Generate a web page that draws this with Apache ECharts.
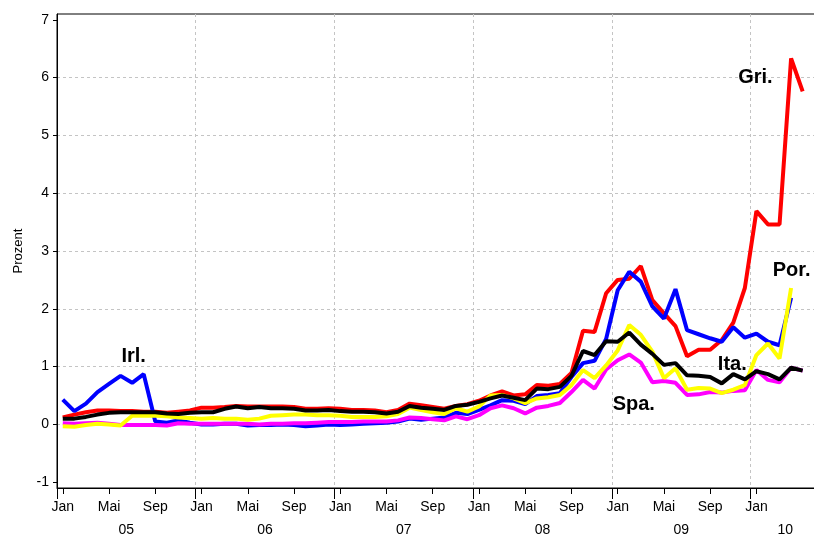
<!DOCTYPE html>
<html>
<head>
<meta charset="utf-8">
<script src="https://cdn.jsdelivr.net/npm/echarts@6/dist/echarts.min.js"></script>
<style>
html,body{margin:0;padding:0;background:#ffffff;}
#chart{width:814px;height:538px;}
</style>
</head>
<body>
<div id="chart"></div>
<script>
// ---- data ----
const monthNames = ['Jan','Feb','Mär','Apr','Mai','Jun','Jul','Aug','Sep','Okt','Nov','Dez'];
const years = ['05','06','07','08','09','10'];
const monthCount = 66; // Jan 05 .. Jun 10
const xTickMonths = ['Jan','Mai','Sep'];
const yTicks = [-1,0,1,2,3,4,5,6,7];
const yGridValues = [0,1,2,3,4,5,6];

const gri = [
  0.12,0.17,0.21,0.24,0.24,0.23,0.23,0.22,0.22,0.20,0.22,0.24,
  0.29,0.29,0.30,0.32,0.31,0.31,0.31,0.31,0.30,0.27,0.27,0.28,
  0.27,0.25,0.25,0.24,0.21,0.25,0.36,0.33,0.30,0.27,0.32,0.35,
  0.41,0.50,0.57,0.50,0.52,0.68,0.67,0.70,0.89,1.62,1.60,2.27,
  2.50,2.52,2.74,2.15,1.92,1.70,1.18,1.29,1.29,1.46,1.76,2.36,
  3.69,3.46,3.46,6.33,5.76
];
const irl = [
  0.43,0.23,0.36,0.56,0.70,0.84,0.72,0.87,0.05,0.03,0.07,0.03,
  0.00,0.00,0.01,0.01,-0.02,-0.01,-0.01,0.00,-0.01,-0.03,-0.02,0.00,
  -0.01,0.00,0.01,0.02,0.03,0.05,0.10,0.08,0.10,0.12,0.20,0.18,
  0.25,0.33,0.42,0.41,0.35,0.49,0.51,0.54,0.82,1.06,1.10,1.48,
  2.32,2.64,2.47,2.04,1.83,2.34,1.63,1.56,1.49,1.43,1.68,1.50,
  1.57,1.43,1.37,2.19
];
const ita = [
  0.10,0.10,0.13,0.17,0.20,0.21,0.21,0.21,0.21,0.19,0.18,0.20,
  0.21,0.21,0.27,0.31,0.28,0.30,0.28,0.28,0.27,0.24,0.24,0.25,
  0.23,0.22,0.22,0.21,0.19,0.22,0.32,0.29,0.27,0.25,0.32,0.34,
  0.39,0.45,0.50,0.46,0.42,0.62,0.61,0.65,0.84,1.27,1.20,1.44,
  1.43,1.59,1.38,1.22,1.03,1.06,0.85,0.84,0.82,0.71,0.87,0.78,
  0.92,0.87,0.78,0.98,0.93
];
const por = [
  -0.03,-0.04,-0.01,0.01,0.00,-0.02,0.15,0.15,0.15,0.14,0.12,0.11,
  0.10,0.11,0.10,0.10,0.08,0.10,0.15,0.16,0.17,0.17,0.16,0.16,
  0.15,0.13,0.13,0.13,0.14,0.18,0.29,0.25,0.21,0.18,0.28,0.22,
  0.31,0.50,0.51,0.45,0.37,0.45,0.47,0.51,0.68,0.94,0.80,1.02,
  1.28,1.72,1.55,1.26,0.80,0.97,0.60,0.63,0.62,0.54,0.60,0.68,
  1.20,1.40,1.14,2.36
];
const spa = [
  0.02,0.01,0.02,0.03,0.01,-0.01,-0.01,-0.01,-0.01,-0.02,0.02,0.01,
  0.01,0.01,0.01,0.01,0.01,0.00,0.01,0.01,0.02,0.02,0.03,0.04,
  0.04,0.04,0.05,0.05,0.05,0.07,0.12,0.11,0.09,0.07,0.14,0.09,
  0.16,0.28,0.33,0.28,0.19,0.29,0.32,0.37,0.56,0.77,0.62,0.95,
  1.11,1.21,1.07,0.73,0.75,0.72,0.51,0.52,0.56,0.55,0.58,0.59,
  0.94,0.77,0.73,0.98,0.93
];

// annotation anchors (category index, value)
const labelIrl = [6, 1.17];
const labelGri = [60, 6.0];
const labelPor = [63, 2.66];
const labelIta = [58, 1.04];
const labelSpa = [49, 0.35];

// ---- build ----
const categories = [];
for (let i = 0; i < monthCount; i++) {
  categories.push(monthNames[i % 12] + ' ' + years[Math.floor(i / 12)]);
}
const FONT = '"Liberation Sans", Arial, Helvetica, sans-serif';
const isMonthTick = (i) => xTickMonths.indexOf(monthNames[i % 12]) >= 0 && i < 64;
// year label sits at the middle of the months of that year present on the axis
const isYearLabel = (i) => {
  const y = Math.floor(i / 12);
  const start = y * 12, end = Math.min(y * 12 + 11, monthCount - 1);
  return i === Math.floor((start + end) / 2);
};

function annot(text, coord, offset) {
  return {
    symbol: 'circle', symbolSize: 0, silent: true, animation: false,
    label: { show: true, position: 'inside', formatter: text, fontFamily: FONT,
      fontSize: 20, fontWeight: 'bold', color: '#000', offset: offset },
    data: [{ coord: [categories[coord[0]], coord[1]] }]
  };
}
function line(name, data, color, mp) {
  return { name: name, type: 'line', data: data, symbol: 'none', showSymbol: false,
    xAxisIndex: 0, yAxisIndex: 0,
    lineStyle: { color: color, width: 4 }, itemStyle: { color: color },
    emphasis: { disabled: true }, markPoint: mp };
}

const chart = echarts.init(document.getElementById('chart'), null, { renderer: 'canvas' });
chart.setOption({
  animation: false,
  backgroundColor: '#ffffff',
  grid: { left: 57, right: -6, top: 14, bottom: 50, containLabel: false, outerBoundsMode: 'none',
    show: true, borderColor: '#000', borderWidth: 1, backgroundColor: 'transparent' },
  xAxis: [
    { type: 'category', data: categories, boundaryGap: true, position: 'bottom',
      axisLine: { show: true, onZero: false, lineStyle: { color: '#000', width: 1 } },
      axisTick: { show: true, interval: (i) => i % 12 === 0, length: 11, lineStyle: { color: '#000' } },
      axisLabel: { show: false },
      splitLine: { show: true, interval: (i) => i % 12 === 0 && i > 0, lineStyle: { type: [3, 3], color: '#c4c4c4', width: 1 } } },
    { type: 'category', data: categories, boundaryGap: true, position: 'bottom',
      axisLine: { show: false, onZero: false },
      axisTick: { show: true, alignWithLabel: true, interval: (i) => isMonthTick(i), length: 6, lineStyle: { color: '#000' } },
      axisLabel: { show: true, interval: (i) => isMonthTick(i), formatter: (v) => v.split(' ')[0],
        margin: 12, fontSize: 14, color: '#000', fontFamily: FONT },
      splitLine: { show: false } },
    { type: 'category', data: categories, boundaryGap: true, position: 'bottom',
      axisLine: { show: false, onZero: false }, axisTick: { show: false },
      axisLabel: { show: true, interval: (i) => isYearLabel(i), formatter: (v) => v.split(' ')[1],
        margin: 35, fontSize: 14, color: '#000', fontFamily: FONT, padding: [0, 0, 0, 11.56] },
      splitLine: { show: false } }
  ],
  yAxis: [
    { type: 'value', min: -1.1, max: 7.1, position: 'left',
      name: 'Prozent', nameLocation: 'middle', nameGap: 32, nameRotate: 90,
      nameTextStyle: { fontSize: 13, color: '#000', fontFamily: FONT },
      axisLine: { show: true, onZero: false, lineStyle: { color: '#000', width: 1 } },
      axisTick: { show: true, length: 4, customValues: yTicks, lineStyle: { color: '#000' } },
      axisLabel: { show: true, customValues: yTicks, margin: 8, fontSize: 14, color: '#000', fontFamily: FONT },
      splitLine: { show: false } },
    { type: 'value', min: -1.1, max: 7.1, position: 'left',
      axisLine: { show: false }, axisTick: { show: false, customValues: yGridValues },
      axisLabel: { show: false, customValues: yGridValues },
      splitLine: { show: true, lineStyle: { type: [3, 3], color: '#c4c4c4', width: 1 } } }
  ],
  series: [
    line('Gri.', gri, '#ff0000', annot('Gri.', labelGri, [-1, 0])),
    line('Irl.', irl, '#0000ff', annot('Irl.', labelIrl, [1.5, 0])),
    line('Spa.', spa, '#ff00ff', annot('Spa.', labelSpa, [4.5, 0])),
    line('Por.', por, '#ffff00', annot('Por.', labelPor, [0.5, 0])),
    line('Ita.', ita, '#000000', annot('Ita.', labelIta, [-1, 0]))
  ]
});
</script>
</body>
</html>
